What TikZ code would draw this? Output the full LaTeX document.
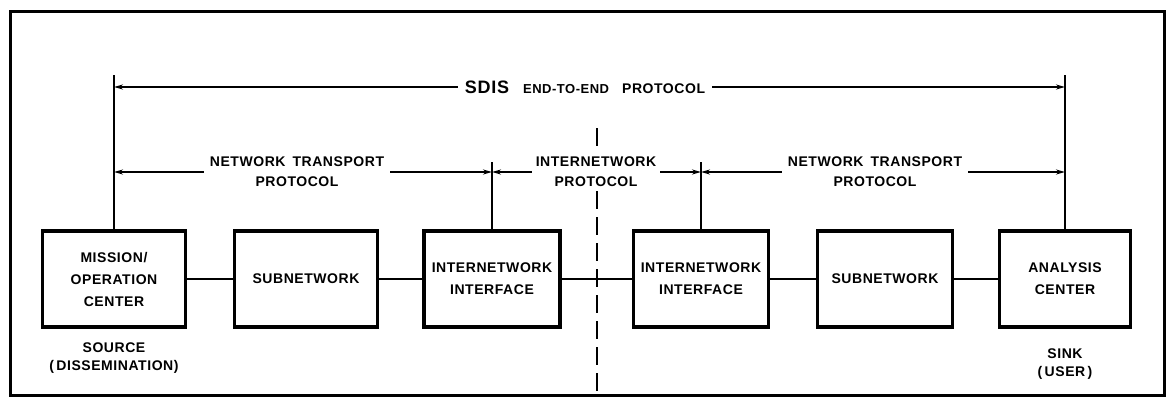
\documentclass[tikz,border=0pt]{standalone}
\usepackage{fontspec}
\newfontfamily\lettering{Liberation Sans}[LetterSpace=4]
\usetikzlibrary{positioning, arrows.meta}

\begin{document}
\begin{tikzpicture}[
    x=1pt, y=-1pt,
    >={Stealth[length=9pt,width=5pt]},
    on grid,
    block/.style={
        draw,
        line width=3.5pt,
        minimum height=96pt,
        align=center,
        font=\lettering\bfseries\fontsize{14}{22}\selectfont
    },
    caption/.style={
        align=center,
        inner sep=6pt,
        font=\lettering\bfseries\fontsize{14}{20}\selectfont
    },
    tick/.style={line width=2.5pt},
    link/.style={line width=2pt},
    arrow/.style={->, line width=1.5pt},
    cut/.style={line width=1.5pt, dash pattern=on 18pt off 8pt}
]
\useasboundingbox (0,0) rectangle (1169,399);
\draw[line width=3pt] (10,11) rectangle (1164,395);

\node[block, minimum width=143pt] (mission) at (114,279) {MISSION/\\OPERATION\\CENTER};
\node[block, minimum width=143pt] (subnet1) at (306,279) {SUBNETWORK};
\node[block, minimum width=136pt] (iface1) at (492,279) {INTERNETWORK\\INTERFACE};
\node[block, minimum width=135pt] (iface2) at (701,279) {INTERNETWORK\\INTERFACE};
\node[block, minimum width=135pt] (subnet2) at (885,279) {SUBNETWORK};
\node[block, minimum width=131pt] (analysis) at (1065,279) {ANALYSIS\\CENTER};

\node[caption, below=79pt of mission] (source) {SOURCE\\[-2pt](\,DISSEMINATION)};
\node[caption, below=85pt of analysis] (sink) {SINK\\[-2pt](\,USER\,)};

% protocol labels
\node[caption, inner sep=7pt] (sdis) at (585,87)
    {{\fontsize{18}{18}\selectfont SDIS}\hspace{14pt}{\fontsize{13}{13}\selectfont END-TO-END}\hspace{13pt}PROTOCOL};
\node[caption] (nt1) at (297,172) {NETWORK\enspace TRANSPORT\\PROTOCOL};
\node[caption, inner sep=4pt] (inet) at (596,172) {INTERNETWORK\\PROTOCOL};
\node[caption] (nt2) at (875,172) {NETWORK\enspace TRANSPORT\\PROTOCOL};

\coordinate (sdis top) at (585,75);
\coordinate (inet top) at (596,162);
\coordinate (cut top) at (597,128);
\coordinate (cut bot) at (597,394);

\path[tick]
(mission.north) edge (mission.north |- sdis top)
(analysis.north) edge (analysis.north |- sdis top)
(iface1.north) edge (iface1.north |- inet top)
(iface2.north) edge (iface2.north |- inet top);

\path[arrow]
(sdis.west) edge (sdis.west -| mission.north)
(sdis.east) edge (sdis.east -| analysis.north)
(nt1.west) edge (nt1.west -| mission.north)
(nt1.east) edge (nt1.east -| iface1.north)
(inet.west) edge (inet.west -| iface1.north)
(inet.east) edge (inet.east -| iface2.north)
(nt2.west) edge (nt2.west -| iface2.north)
(nt2.east) edge (nt2.east -| analysis.north);

% dashed cut, broken round the internetwork label
\draw[cut] (cut top) -- (cut top |- inet.north);
\draw[cut] (cut bot |- inet.south) -- (cut bot);

\path[link]
(mission) edge (subnet1)
(subnet1) edge (iface1)
(iface1) edge (iface2)
(iface2) edge (subnet2)
(subnet2) edge (analysis);

\end{tikzpicture}
\end{document}
